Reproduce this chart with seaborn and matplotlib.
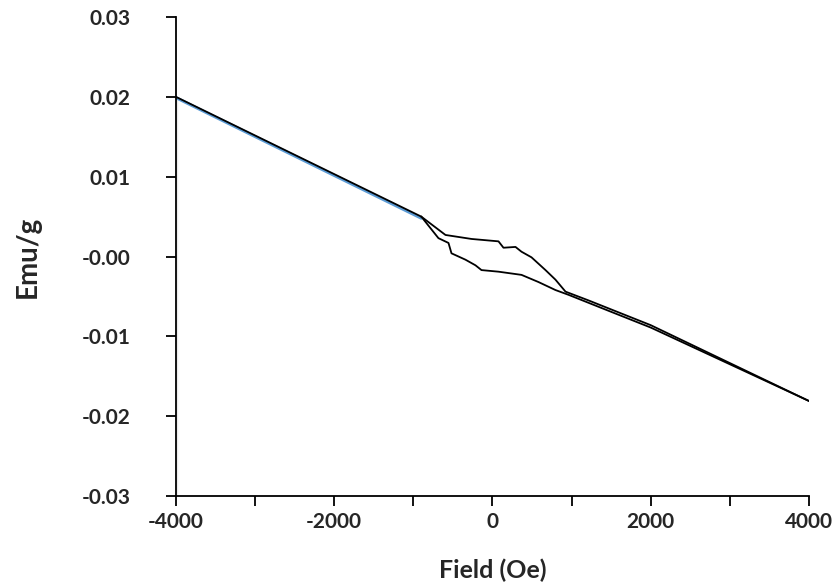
import numpy as np
import pandas as pd
import matplotlib.pyplot as plt
import seaborn as sns

# hysteresis data
field_tail = [-4000, -900]
emu_tail = [0.0200, 0.0050]

field_up = [-900, -594, -265, 76, 139, 291, 367, 493, 670, 796, 923, 1214, 2000, 4000]
emu_up = [0.0050, 0.0027, 0.0022, 0.0019, 0.0011, 0.0012, 0.0006, -0.0001,
          -0.0017, -0.0029, -0.0044, -0.0055, -0.0086, -0.0181]

field_down = [-900, -683, -556, -518, -341, -215, -139, 76, 367, 582, 796, 961, 1467, 2000, 4000]
emu_down = [0.0050, 0.0023, 0.0017, 0.0004, -0.0004, -0.0011, -0.0017, -0.0019,
            -0.0023, -0.0032, -0.0042, -0.0048, -0.0068, -0.0089, -0.0181]

# faint blue trace under the black on the left, plus the drop along x=-4000
field_blue = [-4000, -900]
emu_blue = [0.0199, 0.0048]
field_drop = [-3985, -3985]
emu_drop = [0.0200, -0.0300]

x_labels = ["-4000", "", "-2000", "", "0", "", "2000", "", "4000"]
y_labels = ["-0.03", "-0.02", "-0.01", "-0.00", "0.01", "0.02", "0.03"]

sns.set_theme(style="white")
plt.rcParams['font.family'] = ['Lato', 'DejaVu Sans']

fig = plt.figure(figsize=(8.34, 5.88), dpi=100)
ax = fig.add_axes([0.211, 0.1565, 0.759, 0.8145])

sns.lineplot(x=field_drop, y=emu_drop, sort=False, color='#a0a0a0', lw=1.5, ax=ax)
sns.lineplot(x=field_blue, y=emu_blue, sort=False, color='#5b9bd5', lw=2.2, ax=ax)
sns.lineplot(x=field_tail, y=emu_tail, sort=False, color='black', lw=1.3, ax=ax)
sns.lineplot(x=field_up, y=emu_up, sort=False, color='black', lw=1.3, ax=ax)
sns.lineplot(x=field_down, y=emu_down, sort=False, color='black', lw=1.3, ax=ax)

ax.set_xlim(-4000, 4000)
ax.set_ylim(-0.03, 0.03)
ax.set_xticks(np.arange(-4000, 4001, 1000))
ax.set_xticklabels(x_labels)
ax.set_yticks(np.arange(-0.03, 0.0301, 0.01))
ax.set_yticklabels(y_labels)

sns.despine(ax=ax, top=True, right=True)
for s in ['left', 'bottom']:
    ax.spines[s].set_color('black')
    ax.spines[s].set_linewidth(1.3)

ax.tick_params(axis='both', direction='out', length=7.5, width=1.3, color='black',
               labelsize=15, bottom=True, left=True)
ax.tick_params(axis='x', pad=4)
ax.tick_params(axis='y', pad=25)
for lab in ax.get_xticklabels() + ax.get_yticklabels():
    lab.set_fontweight('bold')

ax.set_xlabel('Field (Oe)', fontsize=18, fontweight='bold')
ax.set_ylabel('Emu/g', fontsize=20, fontweight='bold')
ax.xaxis.set_label_coords(0.5, -0.13)
ax.yaxis.set_label_coords(-0.213, 0.5)

plt.savefig('out.png', dpi=100)
